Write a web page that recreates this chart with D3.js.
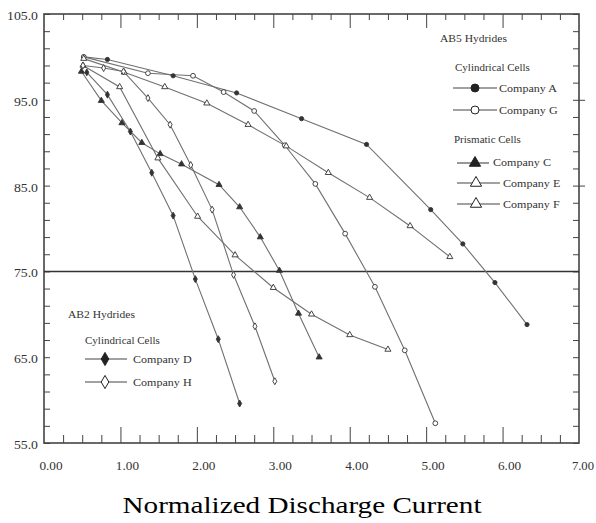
<!DOCTYPE html>
<html><head><meta charset="utf-8">
<script src="https://cdn.jsdelivr.net/npm/d3@7"></script>
<style>body{margin:0;background:#fff}svg{display:block}</style>
</head><body><svg id="c" width="596" height="523"></svg>
<script>
// ---- data ----
const xTicks=[0,1,2,3,4,5,6,7];
const xTickLabels=["0.00","1.00","2.00","3.00","4.00","5.00","6.00","7.00"];
const yTicks=[55,65,75,85,95,105];
const yTickLabels=["55.0","65.0","75.0","85.0","95.0","105.0"];
const refLine=75;
const companyA=[[0.52,100.0],[0.83,99.7],[1.69,97.8],[2.52,95.8],[3.37,92.8],[4.22,89.8],[5.06,82.2],[5.48,78.2],[5.90,73.7],[6.32,68.8]];
const companyG=[[0.52,100.0],[1.36,98.1],[1.95,97.8],[2.35,95.9],[2.75,93.7],[3.15,89.7],[3.55,85.2],[3.94,79.4],[4.33,73.2],[4.72,65.8],[5.12,57.3]];
const companyC=[[0.49,98.3],[0.75,94.9],[1.02,92.3],[1.28,90.0],[1.52,88.7],[1.80,87.5],[2.29,85.1],[2.56,82.5],[2.83,79.0],[3.08,75.1],[3.33,70.1],[3.60,65.0]];
const companyE=[[0.51,99.0],[0.99,96.5],[1.49,88.2],[2.01,81.4],[2.50,76.9],[3.00,73.1],[3.50,70.0],[4.00,67.6],[4.50,65.9]];
const companyF=[[0.52,99.8],[1.05,98.2],[1.58,96.5],[2.13,94.6],[2.67,92.1],[3.17,89.6],[3.72,86.5],[4.26,83.6],[4.79,80.3],[5.31,76.7]];
const companyD=[[0.56,98.2],[0.83,95.6],[1.13,91.3],[1.41,86.5],[1.69,81.5],[1.98,74.1],[2.28,67.1],[2.56,59.6]];
const companyH=[[0.51,99.0],[0.78,98.7],[1.04,98.3],[1.36,95.2],[1.65,92.1],[1.92,87.4],[2.20,82.2],[2.48,74.6],[2.76,68.6],[3.02,62.2]];

const series=[
 {name:"Company A",data:companyA,sym:d3.symbolCircle,fill:true},
 {name:"Company G",data:companyG,sym:d3.symbolCircle,fill:false},
 {name:"Company C",data:companyC,sym:d3.symbolTriangle,fill:true},
 {name:"Company E",data:companyE,sym:d3.symbolTriangle,fill:false},
 {name:"Company F",data:companyF,sym:d3.symbolTriangle,fill:false},
 {name:"Company D",data:companyD,sym:d3.symbolDiamond,fill:true},
 {name:"Company H",data:companyH,sym:d3.symbolDiamond,fill:false}
];

// ---- layout ----
const L=44,R=579,T=14,B=443;
const svg=d3.select("#c");
const x=d3.scaleLinear().domain([0,7]).range([L,R]);
const y=d3.scaleLinear().domain([55,105]).range([B,T]);
const FONT="'Liberation Serif','Times New Roman',serif";
const AX="#444", LN="#707070", MK="#333";

function txt(px,py,s,size,anchor,sx){
  return svg.append("text").attr("transform",`translate(${px},${py}) scale(${sx||1.2},1)`)
   .attr("text-anchor",anchor||"start").attr("font-family",FONT).attr("font-size",size)
   .attr("fill","#333").text(s);
}

// minor/major ticks via axis generators
const xMinor=d3.range(0,7.001,0.25).filter(v=>Math.abs(v-Math.round(v))>1e-6);
const yMinor=d3.range(55,105.001,2);
function tickAxis(gen,tr){ const g=svg.append("g").attr("transform",tr).call(gen);
  g.select(".domain").remove(); g.selectAll("text").remove();
  g.selectAll("line").attr("stroke",AX).attr("stroke-width",1); return g;}
tickAxis(d3.axisBottom(x).tickValues(xMinor).tickSize(-8),`translate(0,${B})`);
tickAxis(d3.axisBottom(x).tickValues(xTicks.slice(1,-1)).tickSize(-16),`translate(0,${B})`);
tickAxis(d3.axisTop(x).tickValues(xMinor).tickSize(-6),`translate(0,${T})`);
tickAxis(d3.axisTop(x).tickValues(xTicks.slice(1,-1)).tickSize(-14),`translate(0,${T})`);
tickAxis(d3.axisLeft(y).tickValues(yMinor).tickSize(-6),`translate(${L},0)`);
tickAxis(d3.axisRight(y).tickValues(yMinor).tickSize(-6),`translate(${R},0)`);
tickAxis(d3.axisRight(y).tickValues([85,95]).tickSize(6),`translate(${R},0)`);

// frame
svg.append("rect").attr("x",L).attr("y",T).attr("width",R-L).attr("height",B-T)
  .attr("fill","none").attr("stroke",AX).attr("stroke-width",1.6);

// tick labels
xTicks.forEach((v,i)=>{
  if(i===xTicks.length-1) txt(594,470,xTickLabels[i],11.5,"end",1.1);
  else txt(x(v)+7,470,xTickLabels[i],11.5,"middle",1.15);
});
yTicks.forEach((v,i)=>txt(38,y(v)+6,yTickLabels[i],11.5,"end",1.2));

// reference line at 75
svg.append("line").attr("x1",x(0)).attr("x2",x(7)).attr("y1",y(refLine)).attr("y2",y(refLine))
  .attr("stroke","#333").attr("stroke-width",1.5);

// series
const line=d3.line().x(d=>x(d[0])).y(d=>y(d[1]));
series.forEach(s=>{
  svg.append("path").datum(s.data).attr("d",line).attr("fill","none")
    .attr("stroke",LN).attr("stroke-width",1.1);
});
series.forEach(s=>{
  const sz = s.sym===d3.symbolCircle?(s.fill?14:18):(s.sym===d3.symbolTriangle?16:14);
  svg.append("g").selectAll("path").data(s.data).join("path")
    .attr("transform",d=>`translate(${x(d[0])},${y(d[1])})`)
    .attr("d",d3.symbol().type(s.sym).size(sz))
    .attr("fill",s.fill?MK:"#fff").attr("stroke",MK).attr("stroke-width",0.9);
});

// legends
function legItem(s,x1,x2,xm,ly,tx,ty){
  svg.append("line").attr("x1",x1).attr("x2",x2).attr("y1",ly).attr("y2",ly)
    .attr("stroke","#444").attr("stroke-width",1.1);
  svg.append("path").attr("transform",`translate(${xm},${ly})`)
    .attr("d",d3.symbol().type(s.sym).size(s.sym===d3.symbolTriangle?55:50))
    .attr("fill",s.fill?"#222":"#fff").attr("stroke","#222").attr("stroke-width",1);
  txt(tx,ty,s.name,10.5,"start",1.15);
}
const S=Object.fromEntries(series.map(s=>[s.name,s]));
txt(440,42,"AB5 Hydrides",10.5,"start",1.1);
txt(455,71,"Cylindrical Cells",10,"start",1.1);
legItem(S["Company A"],453,497,475,88,499,92);
legItem(S["Company G"],453,497,475,110,499,114);
txt(454,143,"Prismatic Cells",10,"start",1.1);
legItem(S["Company C"],457,489,475,163,493,166);
legItem(S["Company E"],457,500,476,183,503,187);
legItem(S["Company F"],457,500,476,204,503,208);
txt(68,318,"AB2 Hydrides",10.5,"start",1.1);
txt(85,344,"Cylindrical Cells",10,"start",1.1);
legItem(S["Company D"],85,127,105,359,133,363);
legItem(S["Company H"],85,127,105,382,133,386);

// axis title
svg.append("text").attr("x",302).attr("y",513).attr("text-anchor","middle")
  .attr("font-family",FONT).attr("font-size",24).attr("fill","#000")
  .attr("textLength",359).attr("lengthAdjust","spacingAndGlyphs")
  .text("Normalized Discharge Current");
</script></body></html>
